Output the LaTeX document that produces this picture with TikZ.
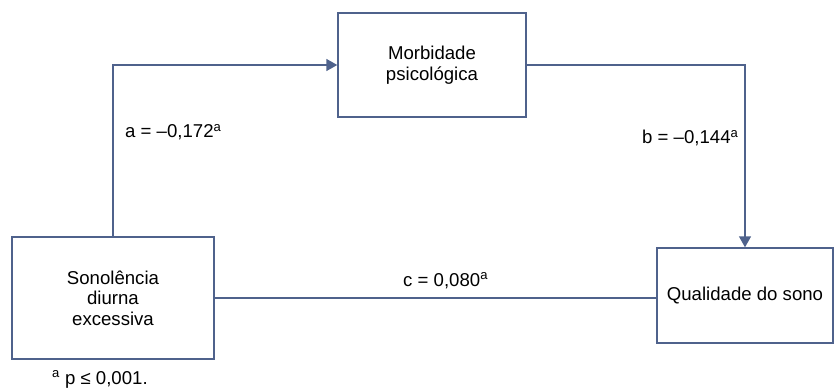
\documentclass[tikz,border=0pt]{standalone}
\usepackage{fontspec}
\setmainfont{Liberation Sans}
\usetikzlibrary{arrows.meta}
\definecolor{linec}{RGB}{79,98,140}
\newcommand{\supa}{\textsuperscript{a}}
\begin{document}
\begin{tikzpicture}[x=1pt,y=-1pt,
  box/.style={draw=linec,line width=1.4pt,fill=white,align=center,inner sep=0pt,
     font=\fontsize{18.6}{20.5}\selectfont},
  conn/.style={draw=linec,line width=1.4pt},
  tip/.style={-{Triangle[length=11pt,width=12pt]}},
  lbl/.style={font=\fontsize{18.6}{21.5}\selectfont,inner sep=0pt,anchor=base west}]
\useasboundingbox (0,0) rectangle (834,390);
\node[box,minimum width=202pt,minimum height=122pt] (sde) at (113,298) {Sonolência\\diurna\\excessiva};
\node[box,minimum width=188pt,minimum height=104pt] (mp) at (432,65) {Morbidade\\psicológica};
\node[box,minimum width=176pt,minimum height=95pt] (qs) at (745,295.5) {Qualidade do sono};
\draw[conn,tip] (sde.north) |- (mp.west);
\draw[conn,tip] (mp.east) -| (qs.north);
\draw[conn] (sde.east) -- (sde.east -| qs.west);
\node[lbl] (la) at (125,138) {a = –0,172\supa};
\node[lbl] (lb) at (642,144) {b = –0,144\supa};
\node[lbl] (lc) at (403,286) {c = 0,080\supa};
\node[lbl] (fn) at (52,384) {\supa{} p ≤ 0,001.};
\end{tikzpicture}
\end{document}
